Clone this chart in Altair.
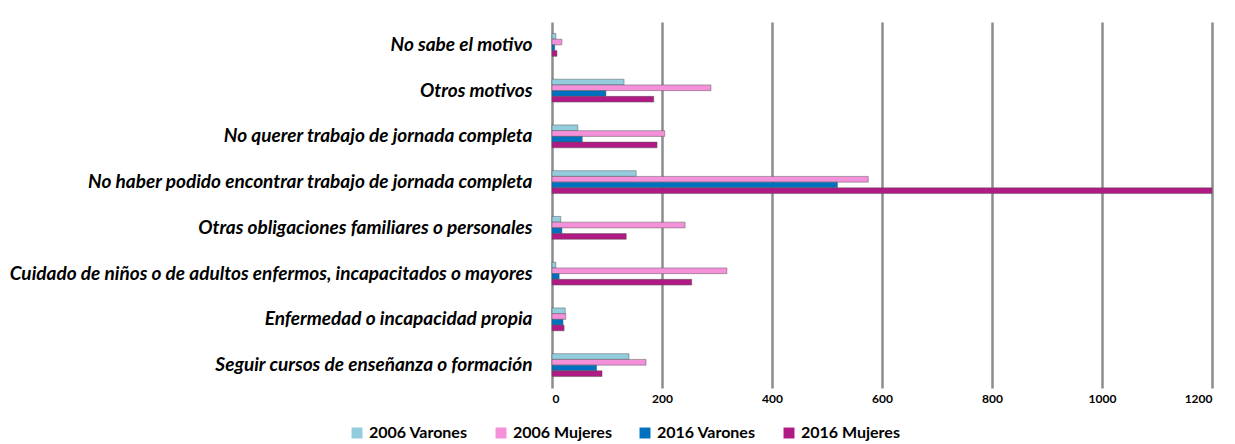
import altair as alt
import pandas as pd

categories = [
    "No sabe el motivo",
    "Otros motivos",
    "No querer trabajo de jornada completa",
    "No haber podido encontrar trabajo de jornada completa",
    "Otras obligaciones familiares o personales",
    "Cuidado de niños o de adultos enfermos, incapacitados o mayores",
    "Enfermedad o incapacidad propia",
    "Seguir cursos de enseñanza o formación",
]
series = ["2006 Varones", "2006 Mujeres", "2016 Varones", "2016 Mujeres"]
v2006_varones = [7, 131, 47, 153, 16, 7, 24, 140]
v2006_mujeres = [18, 289, 205, 575, 242, 318, 25, 171]
v2016_varones = [5, 98, 55, 519, 18, 13, 20, 81]
v2016_mujeres = [9, 185, 191, 1200, 135, 254, 22, 91]
colors = ["#93CDDD", "#F590DA", "#0070C0", "#B01A84"]
x_ticks = [0, 200, 400, 600, 800, 1000, 1200]

rows = []
for s, vals in zip(series, [v2006_varones, v2006_mujeres, v2016_varones, v2016_mujeres]):
    for c, v in zip(categories, vals):
        rows.append({"Motivo": c, "Serie": s, "Valor": v})
df = pd.DataFrame(rows)

chart = alt.Chart(df).mark_bar(strokeWidth=0.8, strokeOpacity=0.6, stroke="#555555").encode(
    x=alt.X("Valor:Q",
            scale=alt.Scale(domain=[0, 1200], nice=False),
            axis=alt.Axis(values=x_ticks, title=None, grid=True, gridColor="#8c8c8c",
                          gridWidth=2.5, domain=False, ticks=False, labelFont="Lato",
                          labelFontSize=12, labelFontWeight="bold", labelColor="#000000",
                          labelPadding=5, format="d")),
    y=alt.Y("Motivo:N", sort=categories,
            scale=alt.Scale(paddingInner=0.5, paddingOuter=0.25),
            axis=alt.Axis(title=None, domain=False, ticks=False, grid=False,
                          labelFont="Lato", labelFontStyle="italic", labelFontSize=19,
                          labelFontWeight="bold",
                          labelColor="#000000", labelPadding=20, labelLimit=600,
                          minExtent=539, maxExtent=539)),
    yOffset=alt.YOffset("Serie:N", sort=series, scale=alt.Scale(paddingInner=0)),
    color=alt.Color("Serie:N", sort=series,
                    scale=alt.Scale(domain=series, range=colors),
                    legend=alt.Legend(title=None, orient="none", direction="horizontal",
                                      legendX=-203, legendY=403, symbolType="square",
                                      symbolSize=120, symbolStrokeWidth=0,
                                      labelFont="Lato", labelFontSize=16,
                                      labelFontWeight="bold",
                                      labelColor="#000000", columnPadding=25,
                                      symbolOffset=0, labelOffset=4)),
).properties(
    width=660, height=366,
    padding={"left": 1, "top": 14, "right": 5, "bottom": 5},
).configure_view(stroke=None)

chart.save("out.html", embed_options={"renderer": "svg", "actions": False})
